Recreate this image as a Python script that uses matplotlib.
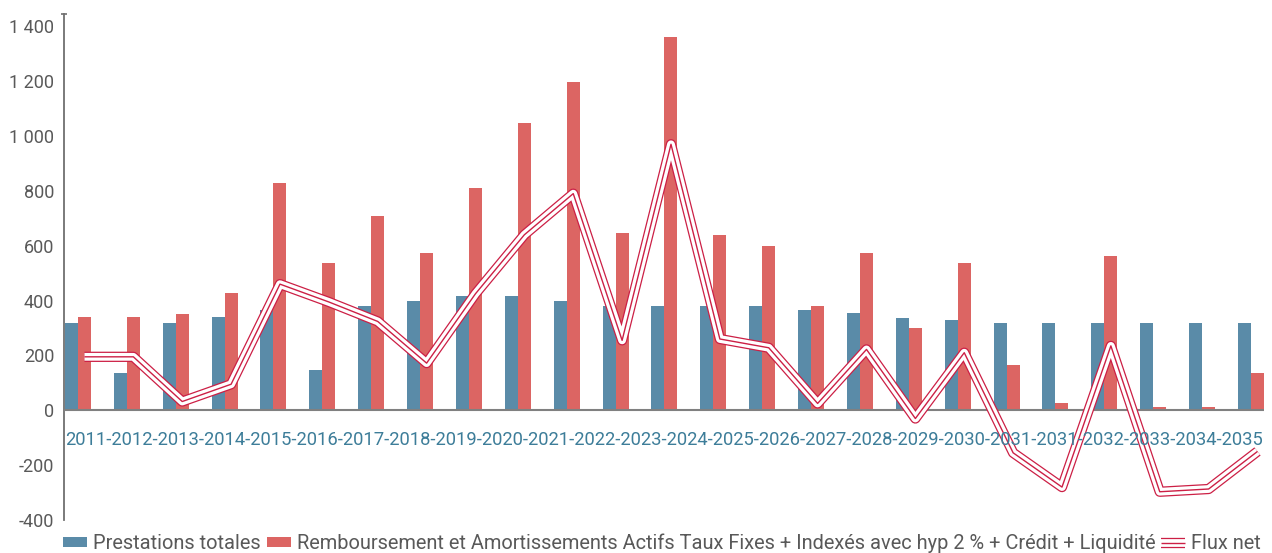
import numpy as np
import matplotlib
matplotlib.use("Agg")
import matplotlib.pyplot as plt
from matplotlib.legend_handler import HandlerTuple
from matplotlib.ticker import FuncFormatter

plt.rcParams['font.family'] = ['Roboto', 'DejaVu Sans']

# values (25 categories)
years = ["2011", "2012", "2013", "2014", "2015", "2016", "2017", "2018", "2019",
         "2020", "2021", "2022", "2023", "2024", "2025", "2026", "2027", "2028",
         "2029", "2030", "2031", "2031", "2032", "2033", "2034", "2035"]
prestations = [320, 137, 320, 341, 366, 147, 381, 399, 415, 415, 399, 382, 382,
               382, 382, 366, 355, 337, 330, 319, 319, 319, 319, 319, 319]
remboursement = [341, 341, 352, 428, 829, 538, 709, 574, 811, 1048, 1198, 647, 1362,
                 640, 600, 382, 574, 301, 538, 166, 27, 563, 13, 13, 137]
flux_net = [195, 195, 32, 95, 460, 395, 324, 172, 425, 640, 790, 255, 970,
            260, 228, 25, 222, -30, 210, -155, -280, 235, -297, -287, -150]

labels = ["Prestations totales",
          "Remboursement et Amortissements Actifs Taux Fixes + Indexés avec hyp 2 % + Crédit + Liquidité",
          "Flux net"]

c_blue = "#5a8ba8"
c_red = "#dc6563"
c_line = "#cc1f45"
c_grey = "#595959"

fig = plt.figure(figsize=(12.72, 5.53), dpi=100)
ax = fig.add_axes([64/1272, 33/553, 1200/1272, 506/553])

x = np.arange(len(prestations))
w = 13/48.88

b1 = ax.bar(x - w, prestations, width=w, color=c_blue, zorder=2)
b2 = ax.bar(x, remboursement, width=w, color=c_red, zorder=2)

# "Flux net" drawn as a triple line: red / white / red
kw = dict(solid_joinstyle='round', solid_capstyle='butt', clip_on=False)
l1, = ax.plot(x, flux_net, color=c_line, lw=7.4, zorder=4, **kw)
l2, = ax.plot(x, flux_net, color='white', lw=5.6, zorder=5, **kw)
l3, = ax.plot(x, flux_net, color=c_line, lw=1.0, zorder=6, **kw)

ax.set_xlim(-0.419, 24.133)
ax.set_ylim(-400, 1445)
ax.axhline(0, color="#808080", lw=1.5, zorder=3)

ax.set_xticks([])
ax.set_yticks(range(-400, 1401, 200))
ax.yaxis.set_major_formatter(FuncFormatter(lambda v, p: f"{int(v):,}".replace(",", " ")))
ax.tick_params(axis='y', length=0, pad=7, labelsize=13, labelcolor=c_grey)
ax.set_yticks([-400, 1445], minor=True)
ax.tick_params(axis='y', which='minor', length=5, direction='inout', width=1.2, color="#707070")

for s in ["top", "right", "bottom"]:
    ax.spines[s].set_visible(False)
ax.spines["left"].set_color("#707070")
ax.spines["left"].set_linewidth(1.3)

ax.text(11.866, -107, "-".join(years), ha='center', va='center',
        fontsize=13.25, color="#3d7d99", zorder=10)

fig.legend(handles=[b1, b2, (l1, l2, l3)], labels=labels,
           loc='center left', bbox_to_anchor=(63/1272, 10/553), ncol=3,
           frameon=False, fontsize=14.4, labelcolor=c_grey,
           handlelength=1.2, handleheight=0.4, handletextpad=0.3,
           columnspacing=0.3, borderpad=0, borderaxespad=0,
           handler_map={tuple: HandlerTuple(ndivide=1)})

fig.savefig("out.png", dpi=100)
